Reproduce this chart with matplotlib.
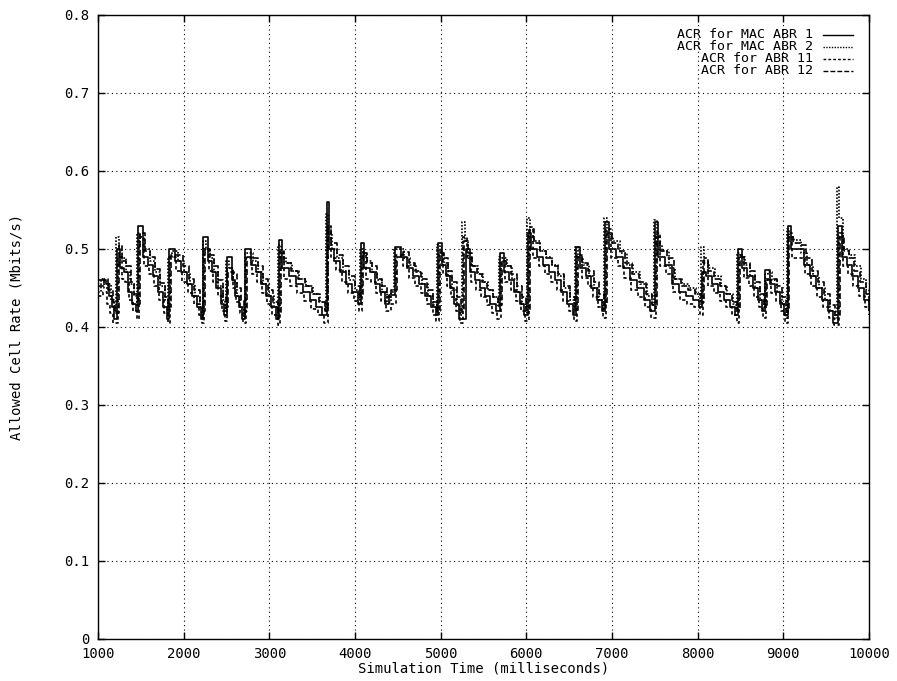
import matplotlib
matplotlib.use("Agg")
import matplotlib.pyplot as plt

########################################################
# ACR samples (time in ms, rate in Mbits/s), one line per rate cycle
########################################################
acr_mac1 = [
    (1000, .460), (1090, .455), (1130, .440), (1160, .425), (1190, .410),
    (1220, .500), (1260, .475), (1300, .470), (1350, .445), (1400, .430), (1440, .420),
    (1470, .530), (1520, .490), (1580, .480), (1640, .465), (1700, .445), (1760, .425), (1800, .410),
    (1830, .500), (1900, .485), (1970, .470), (2040, .455), (2100, .440), (2160, .425), (2200, .410),
    (2230, .515), (2280, .485), (2330, .470), (2380, .450), (2430, .430), (2470, .415),
    (2500, .490), (2560, .460), (2600, .440), (2640, .425), (2680, .410),
    (2720, .500), (2780, .480), (2840, .470), (2900, .455), (2960, .440), (3020, .425), (3080, .410),
    (3110, .512), (3150, .475), (3230, .465), (3310, .455), (3390, .445), (3470, .435), (3550, .425), (3620, .415),
    (3670, .560), (3700, .500), (3760, .485), (3830, .470), (3900, .455), (3970, .445), (4030, .430),
    (4070, .508), (4110, .475), (4170, .470), (4230, .455), (4290, .445), (4350, .430), (4400, .441),
    (4470, .502), (4540, .490), (4610, .475), (4680, .465), (4750, .455), (4820, .440), (4890, .425), (4940, .415),
    (4970, .508), (5010, .480), (5060, .465), (5110, .450), (5160, .430), (5210, .410),
    (5290, .500), (5340, .470), (5400, .460), (5460, .450), (5520, .440), (5580, .430), (5640, .420),
    (5690, .495), (5740, .470), (5800, .460), (5860, .445), (5920, .430), (5970, .415),
    (6020, .520), (6060, .500), (6130, .490), (6200, .480), (6270, .470), (6340, .460), (6410, .445), (6480, .430), (6540, .415),
    (6580, .502), (6630, .475), (6700, .465), (6760, .450), (6820, .435), (6880, .420),
    (6920, .535), (6970, .500), (7050, .490), (7130, .475), (7210, .460), (7290, .450), (7370, .435), (7440, .420),
    (7500, .535), (7540, .490), (7620, .480), (7700, .455), (7780, .445), (7860, .440), (7940, .435), (8010, .425),
    (8050, .470), (8100, .465), (8170, .455), (8240, .445), (8310, .435), (8380, .425), (8440, .415),
    (8470, .500), (8520, .475), (8580, .465), (8640, .450), (8700, .435), (8750, .420),
    (8790, .473), (8840, .455), (8900, .445), (8960, .430), (9010, .415),
    (9050, .530), (9090, .500), (9170, .500), (9240, .480), (9310, .465), (9380, .450), (9450, .435), (9520, .420), (9580, .405),
    (9640, .530), (9680, .490), (9740, .480), (9800, .465), (9870, .450), (9940, .435), (10000, .425),
]

acr_mac2 = [
    (1000, .445), (1035, .462), (1070, .450), (1115, .455), (1150, .435), (1185, .420),
    (1210, .515), (1245, .495), (1285, .488), (1325, .470), (1375, .455), (1420, .440), (1450, .428),
    (1460, .520), (1495, .505), (1545, .500), (1605, .485), (1665, .470), (1725, .452), (1780, .435), (1815, .418),
    (1820, .490), (1865, .498), (1935, .485), (2005, .470), (2070, .455), (2130, .440), (2185, .425), (2215, .412),
    (2220, .510), (2255, .500), (2305, .488), (2355, .470), (2405, .452), (2455, .435), (2485, .420),
    (2490, .485), (2530, .475), (2580, .458), (2620, .440), (2660, .425), (2700, .412),
    (2710, .495), (2750, .495), (2810, .485), (2870, .470), (2930, .455), (2990, .440), (3050, .425), (3095, .412),
    (3100, .505), (3130, .490), (3190, .482), (3270, .472), (3350, .462), (3430, .452), (3510, .442), (3590, .432), (3650, .420),
    (3660, .545), (3685, .520), (3730, .500), (3795, .488), (3865, .472), (3935, .460), (4000, .448), (4045, .435),
    (4060, .500), (4090, .492), (4140, .485), (4200, .470), (4260, .460), (4320, .445), (4375, .432), (4420, .445),
    (4460, .500), (4505, .500), (4575, .488), (4645, .480), (4715, .470), (4785, .455), (4855, .440), (4915, .428), (4955, .418),
    (4960, .505), (4990, .495), (5035, .482), (5085, .465), (5135, .448), (5185, .428), (5230, .415),
    (5250, .535), (5280, .510), (5315, .488), (5370, .478), (5430, .468), (5490, .458), (5550, .448), (5610, .438), (5665, .425),
    (5680, .490), (5715, .488), (5770, .478), (5830, .462), (5890, .445), (5945, .430), (5990, .418),
    (6010, .540), (6040, .515), (6095, .510), (6165, .498), (6235, .490), (6305, .480), (6375, .465), (6445, .450), (6510, .435), (6560, .420),
    (6570, .503), (6605, .490), (6665, .480), (6730, .465), (6790, .450), (6850, .435), (6900, .422),
    (6910, .540), (6945, .515), (7010, .510), (7090, .495), (7170, .480), (7250, .470), (7330, .455), (7405, .440), (7470, .428),
    (7490, .537), (7520, .505), (7580, .498), (7660, .475), (7740, .462), (7820, .455), (7900, .450), (7975, .442), (8030, .430),
    (8040, .503), (8075, .482), (8135, .475), (8205, .465), (8275, .452), (8345, .442), (8410, .430), (8450, .420),
    (8462, .495), (8495, .490), (8550, .480), (8610, .465), (8670, .450), (8725, .435), (8770, .425),
    (8780, .468), (8815, .470), (8870, .460), (8930, .445), (8985, .430), (9030, .412),
    (9040, .525), (9070, .515), (9130, .512), (9205, .495), (9275, .480), (9345, .465), (9415, .450), (9485, .435), (9550, .420), (9600, .410),
    (9630, .580), (9655, .540), (9700, .500), (9770, .492), (9835, .478), (9905, .462), (9970, .448), (10000, .440),
]

acr_abr11 = [
    (1000, .440), (1060, .445), (1105, .430), (1145, .418), (1175, .405),
    (1230, .490), (1275, .462), (1315, .458), (1365, .435), (1410, .420), (1450, .410),
    (1480, .515), (1535, .478), (1595, .468), (1655, .452), (1715, .435), (1775, .418), (1815, .405),
    (1840, .490), (1915, .472), (1985, .458), (2055, .443), (2115, .430), (2175, .415), (2215, .405),
    (2240, .500), (2295, .472), (2345, .458), (2395, .440), (2445, .420), (2485, .408),
    (2510, .475), (2575, .450), (2615, .432), (2655, .418), (2695, .405),
    (2730, .488), (2795, .468), (2855, .458), (2915, .443), (2975, .430), (3035, .415), (3095, .402),
    (3120, .498), (3165, .462), (3245, .453), (3325, .443), (3405, .433), (3485, .423), (3565, .415), (3635, .405),
    (3680, .530), (3715, .488), (3775, .473), (3845, .458), (3915, .443), (3985, .433), (4045, .420),
    (4080, .495), (4125, .462), (4185, .458), (4245, .443), (4305, .433), (4365, .420), (4415, .430),
    (4480, .492), (4555, .478), (4625, .463), (4695, .453), (4765, .443), (4835, .430), (4905, .415), (4950, .408),
    (4980, .498), (5025, .468), (5075, .453), (5125, .438), (5175, .420), (5225, .405),
    (5260, .515), (5305, .490), (5355, .458), (5415, .448), (5475, .438), (5535, .428), (5595, .418), (5655, .410),
    (5700, .485), (5755, .458), (5815, .448), (5875, .433), (5935, .420), (5985, .408),
    (6030, .528), (6075, .488), (6145, .478), (6215, .468), (6285, .458), (6355, .448), (6425, .433), (6495, .420), (6555, .408),
    (6590, .492), (6645, .463), (6715, .453), (6775, .438), (6835, .425), (6895, .412),
    (6930, .525), (6985, .488), (7065, .478), (7145, .463), (7225, .448), (7305, .438), (7385, .425), (7455, .412),
    (7510, .520), (7555, .478), (7635, .468), (7715, .445), (7795, .435), (7875, .430), (7955, .425), (8025, .415),
    (8060, .488), (8115, .453), (8185, .443), (8255, .433), (8325, .425), (8395, .415), (8455, .405),
    (8480, .492), (8535, .463), (8595, .453), (8655, .438), (8715, .425), (8765, .412),
    (8800, .462), (8855, .443), (8915, .433), (8975, .420), (9025, .405),
    (9060, .520), (9105, .488), (9185, .488), (9255, .468), (9325, .453), (9395, .438), (9465, .425), (9535, .412), (9595, .402),
    (9650, .520), (9695, .478), (9755, .468), (9815, .453), (9885, .440), (9955, .425), (10000, .415),
]

acr_abr12 = [
    (1000, .452), (1075, .462), (1120, .448), (1170, .432), (1200, .418),
    (1240, .505), (1285, .485), (1330, .478), (1380, .458), (1425, .442), (1465, .430),
    (1490, .520), (1545, .498), (1605, .490), (1665, .474), (1725, .456), (1785, .438), (1815, .425),
    (1850, .492), (1925, .492), (1995, .478), (2065, .462), (2125, .448), (2185, .432), (2220, .420),
    (2250, .500), (2305, .492), (2355, .478), (2405, .460), (2455, .440), (2492, .425),
    (2520, .470), (2585, .468), (2625, .450), (2665, .434), (2705, .420),
    (2740, .490), (2805, .488), (2865, .478), (2925, .462), (2985, .448), (3045, .432), (3100, .418),
    (3130, .495), (3175, .482), (3255, .472), (3335, .462), (3415, .452), (3495, .442), (3575, .432), (3645, .420),
    (3690, .525), (3725, .508), (3785, .492), (3855, .478), (3925, .465), (3995, .452), (4055, .440),
    (4090, .495), (4135, .482), (4195, .478), (4255, .462), (4315, .452), (4375, .438), (4425, .448),
    (4490, .490), (4565, .496), (4635, .482), (4705, .472), (4775, .462), (4845, .448), (4915, .432), (4958, .420),
    (4990, .495), (5035, .488), (5085, .472), (5135, .458), (5185, .438), (5235, .420),
    (5270, .510), (5315, .495), (5365, .478), (5425, .468), (5485, .458), (5545, .448), (5605, .438), (5665, .428),
    (5710, .485), (5765, .478), (5825, .468), (5885, .452), (5945, .438), (5995, .422),
    (6040, .525), (6085, .508), (6155, .498), (6225, .488), (6295, .478), (6365, .468), (6435, .452), (6505, .438), (6562, .422),
    (6600, .490), (6655, .482), (6725, .472), (6785, .458), (6845, .442), (6905, .428),
    (6940, .520), (6995, .508), (7075, .498), (7155, .482), (7235, .468), (7315, .458), (7395, .442), (7465, .428),
    (7520, .515), (7565, .498), (7645, .488), (7725, .462), (7805, .452), (7885, .448), (7965, .442), (8035, .432),
    (8070, .485), (8125, .472), (8195, .462), (8265, .452), (8335, .442), (8405, .432), (8458, .422),
    (8490, .490), (8545, .482), (8605, .472), (8665, .458), (8725, .442), (8775, .428),
    (8810, .460), (8865, .462), (8925, .452), (8985, .438), (9035, .420),
    (9070, .515), (9115, .508), (9195, .505), (9265, .488), (9335, .472), (9405, .458), (9475, .442), (9545, .428), (9605, .415),
    (9660, .515), (9705, .498), (9765, .488), (9825, .472), (9895, .458), (9965, .442), (10000, .432),
]

labels = ["ACR for MAC ABR 1", "ACR for MAC ABR 2", "ACR for ABR 11", "ACR for ABR 12"]
x_ticks = [1000, 2000, 3000, 4000, 5000, 6000, 7000, 8000, 9000, 10000]
y_ticks = [0, 0.1, 0.2, 0.3, 0.4, 0.5, 0.6, 0.7, 0.8]
y_tick_labels = ["0", "0.1", "0.2", "0.3", "0.4", "0.5", "0.6", "0.7", "0.8"]

########################################################
# 作图
########################################################
plt.rcParams['font.family'] = ['DejaVu Sans Mono']
plt.rcParams['font.size'] = 10

fig = plt.figure(figsize=(8.97, 6.81), dpi=100)
ax = fig.add_axes([0.1093, 0.0617, 0.8595, 0.9163])

styles = ['-', (0, (1, 1)), (0, (2, 1.5)), (0, (3.5, 1.5))]
all_series = [acr_mac1, acr_mac2, acr_abr11, acr_abr12]

for series, ls in zip(all_series, styles):
    t, v = zip(*series)
    ax.plot(t, v, color='black', linewidth=1.2, linestyle=ls, drawstyle='steps-post')

ax.set_xlim(1000, 10000)
ax.set_ylim(0, 0.8)
ax.set_xticks(x_ticks)
ax.set_yticks(y_ticks)
ax.set_yticklabels(y_tick_labels)
ax.grid(True, color='black', linewidth=0.8, linestyle=(0, (1, 3)))
ax.tick_params(direction='in', top=True, right=True, length=5, width=1, pad=6)
for sp in ax.spines.values():
    sp.set_linewidth(1.0)

ax.set_xlabel("Simulation Time (milliseconds)")
ax.set_ylabel("Allowed Cell Rate (Mbits/s)")
ax.xaxis.set_label_coords(0.5, -0.036)
ax.yaxis.set_label_coords(-0.097, 0.5)

# key in the top right corner: text right-aligned, line sample after it
key_rows = [0.968, 0.949, 0.930, 0.911]
for label, ls, y in zip(labels, styles, key_rows):
    ax.text(0.927, y, label, transform=ax.transAxes, ha='right', va='center',
            fontsize=9.5)
    ax.plot([0.940, 0.979], [y, y], transform=ax.transAxes, color='black',
            linewidth=1.0, linestyle=ls)

fig.savefig("out.png", dpi=100)
